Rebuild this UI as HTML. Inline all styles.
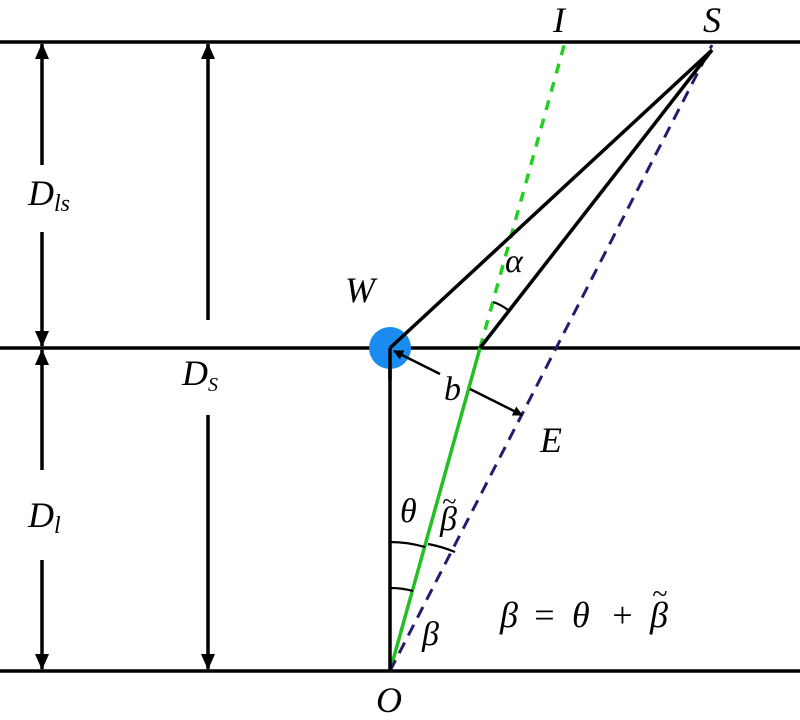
<!DOCTYPE html>
<html><head><meta charset="utf-8"><style>
html,body{margin:0;padding:0;background:#fff;}
svg{display:block;}
text{font-family:"Liberation Serif",serif;font-style:italic;fill:#000;}
</style></head><body>
<svg width="800" height="720" viewBox="0 0 800 720" xmlns="http://www.w3.org/2000/svg">
<defs>
<marker id="ah" markerWidth="10" markerHeight="10" refX="9" refY="5" orient="auto" markerUnits="userSpaceOnUse" viewBox="0 0 10 10">
<path d="M0,0 L10,5 L0,10 z" fill="#000"/></marker>
<marker id="ah2" markerWidth="16" markerHeight="16" refX="15" refY="8" orient="auto" markerUnits="userSpaceOnUse" viewBox="0 0 16 16">
<path d="M0,1 L16,8 L0,15 z" fill="#000"/></marker>
</defs>
<g stroke="#000" stroke-width="3.5" fill="none">
<line x1="0" y1="42" x2="800" y2="42"/>
<line x1="0" y1="348" x2="800" y2="348"/>
<line x1="0" y1="671" x2="800" y2="671"/>
</g>
<g stroke="#000" stroke-width="3.5" fill="none">
<line x1="42" y1="165" x2="42" y2="44" marker-end="url(#ah2)"/>
<line x1="42" y1="232" x2="42" y2="346" marker-end="url(#ah2)"/>
<line x1="42" y1="470" x2="42" y2="350" marker-end="url(#ah2)"/>
<line x1="42" y1="560" x2="42" y2="669" marker-end="url(#ah2)"/>
<line x1="208" y1="320" x2="208" y2="44" marker-end="url(#ah2)"/>
<line x1="208" y1="415" x2="208" y2="669" marker-end="url(#ah2)"/>
</g>
<line x1="390" y1="671" x2="480" y2="348" stroke="#22c022" stroke-width="3.5"/>
<line x1="480" y1="348" x2="565" y2="42" stroke="#22d022" stroke-width="3.5" stroke-dasharray="10,9"/>
<line x1="390" y1="671" x2="712" y2="45" stroke="#2a1a6e" stroke-width="3" stroke-dasharray="12,8"/>
<g stroke="#000" stroke-width="3.5" fill="none">
<line x1="480" y1="348" x2="712" y2="50"/>
<line x1="390" y1="348" x2="390" y2="671"/>
</g>
<circle cx="390" cy="348" r="21" fill="#1a8cf0"/>
<line x1="390" y1="348" x2="712" y2="50" stroke="#000" stroke-width="3.5"/>
<line x1="390" y1="348" x2="390" y2="380" stroke="#000" stroke-width="3.5"/>
<g stroke="#000" stroke-width="2.5">
<line x1="440" y1="374" x2="394" y2="351" marker-end="url(#ah)"/>
<line x1="470" y1="389" x2="522" y2="415" marker-end="url(#ah)"/>
</g>
<g stroke="#000" stroke-width="2.2" fill="none">
<path d="M390,542 A129,129 0 0 1 425,547"/>
<path d="M428,544 A135,135 0 0 1 455,552"/>
<path d="M390,588 A83,83 0 0 1 413,591"/>
<path d="M493,302 A48,48 0 0 1 508,310"/>
</g>
<g font-size="36">
<text x="553" y="32">I</text>
<text x="703" y="32">S</text>
<text x="345" y="302">W</text>
<text x="540" y="452">E</text>
<text x="376" y="712">O</text>
<text x="444" y="400" font-size="34">b</text>
<text x="505" y="272" font-size="34">α</text>
<text x="400" y="522" font-size="34">θ</text>
<text x="440" y="530" font-size="34">β</text>
<text x="442" y="510" font-size="26" font-style="normal">~</text>
<text x="422" y="645" font-size="34">β</text>
<text x="28" y="205">D<tspan font-size="24" dy="6">ls</tspan></text>
<text x="28" y="527">D<tspan font-size="24" dy="6">l</tspan></text>
<text x="182" y="385">D<tspan font-size="20" dy="6">S</tspan></text>
<text x="500" y="627" font-size="36">β</text>
<text x="532" y="627" font-size="36" font-style="normal">=</text>
<text x="572" y="627" font-size="36">θ</text>
<text x="610" y="627" font-size="36" font-style="normal">+</text>
<text x="650" y="627" font-size="36">β</text>
<text x="652" y="603" font-size="28" font-style="normal">~</text>
</g>
</svg>
</body></html>
